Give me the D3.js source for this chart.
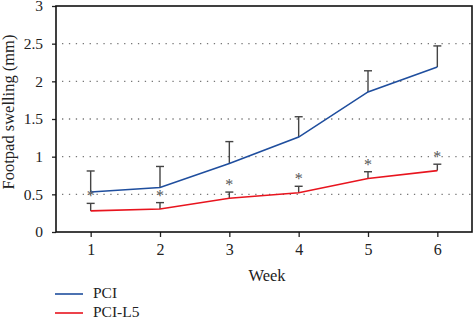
<!DOCTYPE html>
<html>
<head>
<meta charset="utf-8">
<script src="https://cdn.jsdelivr.net/npm/d3@7"></script>
<style>
  body { margin: 0; background: #fff; }
  text { font-family: "Liberation Serif", "DejaVu Serif", serif; }
</style>
</head>
<body>
<svg id="chart" width="474" height="319"></svg>
<script>
const weeks = [1, 2, 3, 4, 5, 6];
const pciMean = [0.53, 0.59, 0.91, 1.26, 1.86, 2.19];
const pciUpper = [0.81, 0.87, 1.2, 1.53, 2.14, 2.47];
const l5Mean = [0.28, 0.305, 0.447, 0.52, 0.71, 0.815];
const l5Upper = [0.38, 0.39, 0.53, 0.607, 0.8, 0.9];
const yTicks = [0, 0.5, 1, 1.5, 2, 2.5, 3];

const svg = d3.select("#chart");
const plotLeft = 56, plotRight = 472, plotTop = 6, plotBottom = 232;

const x = d3.scaleLinear().domain([0.5, 6.5]).range([plotLeft, plotRight]);
const y = d3.scaleLinear().domain([0, 3]).range([plotBottom, plotTop]);

// dotted grid
svg.append("g")
  .selectAll("line")
  .data(yTicks.filter((d) => d > 0 && d < 3))
  .join("line")
  .attr("x1", plotLeft + 6)
  .attr("x2", plotRight)
  .attr("y1", (d) => y(d))
  .attr("y2", (d) => y(d))
  .attr("stroke", "#777")
  .attr("stroke-width", 1.3)
  .attr("stroke-dasharray", "1.3,5.6");

// axes
const yAxis = svg.append("g")
  .attr("transform", `translate(${plotLeft}, 0)`)
  .call(d3.axisLeft(y).tickValues(yTicks).tickSize(4).tickPadding(9).tickFormat((d) => d));
yAxis.selectAll("text").attr("font-size", 15.5);
const xAxis = svg.append("g")
  .attr("transform", `translate(0, ${plotBottom})`)
  .call(d3.axisBottom(x).tickValues(weeks).tickSize(5).tickPadding(7).tickFormat(d3.format("d")));
xAxis.selectAll("text").attr("font-size", 16);
[yAxis, xAxis].forEach((g) => {
  g.select(".domain").remove();
  g.selectAll("line").attr("stroke", "#222").attr("stroke-width", 1.3);
  g.selectAll("text").attr("fill", "#222")
    .style("font-family", "Liberation Serif, serif");
});

// frame
svg.append("rect")
  .attr("x", plotLeft).attr("y", plotTop)
  .attr("width", plotRight - plotLeft).attr("height", plotBottom - plotTop)
  .attr("fill", "none").attr("stroke", "#111").attr("stroke-width", 1.6);

// error bars + lines
function drawSeries(means, uppers, color, star) {
  const pts = weeks.map((w, i) => ({ w, m: means[i], u: uppers[i] }));
  const g = svg.append("g");
  g.selectAll("line.v").data(pts).join("line")
    .attr("x1", (d) => x(d.w)).attr("x2", (d) => x(d.w))
    .attr("y1", (d) => y(d.m)).attr("y2", (d) => y(d.u))
    .attr("stroke", "#444").attr("stroke-width", 1.4);
  g.selectAll("line.c").data(pts).join("line")
    .attr("x1", (d) => x(d.w) - 4).attr("x2", (d) => x(d.w) + 4)
    .attr("y1", (d) => y(d.u)).attr("y2", (d) => y(d.u))
    .attr("stroke", "#444").attr("stroke-width", 1.4);
  g.append("path").datum(pts)
    .attr("d", d3.line().x((d) => x(d.w)).y((d) => y(d.m)))
    .attr("fill", "none").attr("stroke", color).attr("stroke-width", 1.6);
  if (star) {
    g.selectAll("text").data(pts).join("text")
      .attr("x", (d) => x(d.w)).attr("y", (d) => y(d.u) - 2)
      .attr("text-anchor", "middle").attr("font-size", 16).attr("fill", "#555")
      .text("*");
  }
}
drawSeries(pciMean, pciUpper, "#1f4e9e", false);
drawSeries(l5Mean, l5Upper, "#e8141e", true);

// axis titles
svg.append("text")
  .attr("transform", "translate(14, 112) rotate(-90)")
  .attr("text-anchor", "middle").attr("font-size", 16.5).attr("fill", "#222")
  .text("Footpad swelling (mm)");
svg.append("text")
  .attr("x", 267).attr("y", 281)
  .attr("text-anchor", "middle").attr("font-size", 16.5).attr("fill", "#222")
  .text("Week");

// legend
const legend = [["PCI", "#1f4e9e"], ["PCI-L5", "#e8141e"]];
legend.forEach(([name, color], i) => {
  const ly = 294 + i * 19;
  svg.append("line").attr("x1", 55).attr("x2", 83).attr("y1", ly).attr("y2", ly)
    .attr("stroke", color).attr("stroke-width", 1.6);
  svg.append("text").attr("x", 93).attr("y", ly + 4)
    .attr("font-size", 15.5).attr("fill", "#222").text(name);
});
</script>
</body>
</html>
